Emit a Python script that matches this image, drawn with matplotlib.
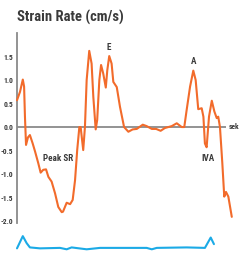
import matplotlib
matplotlib.use("Agg")
import matplotlib.pyplot as plt
from matplotlib import font_manager

# strain rate trace (time in fraction of cycle, value in cm/s)
t_sr = [0.0, 0.014, 0.027, 0.033, 0.037, 0.042, 0.051, 0.060, 0.073, 0.084,
        0.099, 0.110, 0.122, 0.135, 0.146, 0.161, 0.177, 0.192, 0.208, 0.214,
        0.231, 0.247, 0.259, 0.270, 0.280, 0.290, 0.296, 0.308, 0.316, 0.324,
        0.336, 0.347, 0.355, 0.366, 0.373, 0.383, 0.391, 0.401, 0.413, 0.420,
        0.429, 0.440, 0.448, 0.464, 0.479, 0.498, 0.518, 0.538, 0.557, 0.585,
        0.603, 0.627, 0.647, 0.668, 0.688, 0.720, 0.743, 0.766, 0.778, 0.789,
        0.805, 0.820, 0.831, 0.843, 0.859, 0.867, 0.874, 0.882, 0.893, 0.906,
        0.918, 0.929, 0.936, 0.944, 0.955, 0.964, 0.972, 0.983, 0.999]
sr = [0.57, 0.75, 1.01, 0.86, 0.22, -0.38, -0.22, -0.17, -0.35, -0.52,
      -0.77, -0.97, -0.91, -0.90, -1.06, -1.16, -1.41, -1.70, -1.81, -1.80,
      -1.61, -1.64, -1.55, -1.13, -0.49, 0.0, 0.0, -0.49, 0.0, 1.0,
      1.62, 1.35, 0.64, -0.05, 0.15, 1.0, 1.32, 1.14, 0.84, 1.21,
      1.51, 1.35, 0.96, 0.85, 0.43, 0.0, -0.10, -0.05, -0.04, 0.05,
      0.02, -0.04, -0.04, -0.08, -0.02, 0.02, 0.08, 0.0, 0.0, 0.36,
      0.86, 1.20, 1.00, 0.38, 0.40, 0.22, -0.35, -0.43, 0.22, 0.56,
      0.33, 0.19, 0.22, 0.0, -0.77, -1.48, -1.38, -1.48, -1.91]

# ecg trace drawn below the chart
t_ecg = [0.0, 0.027, 0.045, 0.060, 0.107, 0.200, 0.231, 0.254, 0.324, 0.386,
         0.541, 0.603, 0.627, 0.650, 0.789, 0.874, 0.901, 0.916]
ecg = [-2.58, -2.32, -2.47, -2.56, -2.58, -2.57, -2.60, -2.56, -2.60, -2.57,
       -2.57, -2.57, -2.60, -2.57, -2.56, -2.57, -2.35, -2.49]

yticks = [1.5, 1.0, 0.5, 0.0, -0.5, -1.0, -1.5, -2.0]
labels = [("E", 0.425, 1.69), ("A", 0.822, 1.40),
          ("Peak SR", 0.19, -0.66), ("IVA", 0.887, -0.67)]

orange = "#F26B2B"
blue = "#1BAAE6"
grey = "#8a8a8a"
txt = "#3a3a3a"

plt.rcParams["axes.unicode_minus"] = False

# pick a narrow bold face if one is installed
names = {f.name for f in font_manager.fontManager.ttflist}
fam = ["DejaVu Sans"]
for cand in ["Liberation Sans Narrow", "Roboto Condensed", "Open Sans Condensed"]:
    if cand in names:
        fam = [cand, "DejaVu Sans"]
        break
narrow = fam[0] != "DejaVu Sans"
stretch = "normal" if narrow else "condensed"

fig = plt.figure(figsize=(2.42, 2.54), dpi=100)
ax = fig.add_axes([17 / 242, 0.0, 215 / 242, 221 / 254])
ax.set_xlim(0, 1.0)
ax.set_ylim(-2.70, 2.0)

ax.hlines(0, 0, 0.972, color=grey, lw=1.3, zorder=1)
ax.plot(t_sr, sr, color=orange, lw=1.5, solid_joinstyle="round",
        solid_capstyle="round", clip_on=False, zorder=3)
ax.plot(t_ecg, ecg, color=blue, lw=1.5, solid_joinstyle="round",
        solid_capstyle="round", clip_on=False, zorder=3)

for s in ["top", "right", "bottom"]:
    ax.spines[s].set_visible(False)
ax.spines["left"].set_color(grey)
ax.spines["left"].set_linewidth(1.3)
ax.spines["left"].set_bounds(-2.05, 2.0)

ax.set_xticks([])
ax.set_yticks(yticks)
ax.set_yticklabels([f"{v:.1f}" for v in yticks])
ax.tick_params(axis="y", length=0, pad=2.5, labelsize=5.4 if narrow else 4.6,
               labelcolor=txt)
for lb in ax.get_yticklabels():
    lb.set_fontweight("bold")
    lb.set_family(fam)
    lb.set_stretch(stretch)

small = 6.6 if narrow else 5.2
for name, x, y in labels:
    ax.text(x, y, name, ha="center", va="center", fontsize=small, color=txt,
            fontweight="bold", family=fam, stretch=stretch)
ax.text(0.985, 0.0, "sek", ha="left", va="center", fontsize=small - 1.2,
        color=txt, fontweight="bold", family=fam, stretch=stretch, clip_on=False)

fig.text(17 / 242, 1 - 17 / 254, "Strain Rate (cm/s)", ha="left", va="center",
         fontsize=10.5 if narrow else 8.5, color=txt, fontweight="bold",
         family=fam, stretch=stretch)

fig.savefig("out.png", dpi=100)
